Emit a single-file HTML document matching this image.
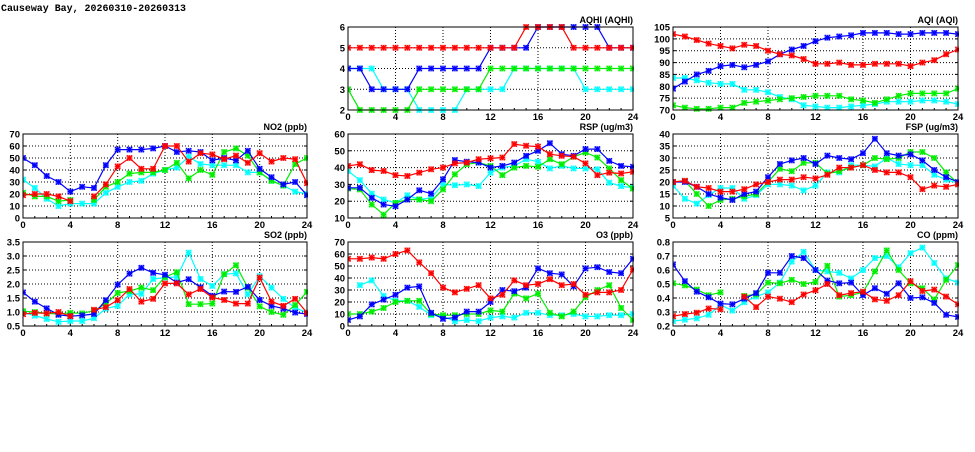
<!DOCTYPE html>
<html><head><meta charset="utf-8"><style>
html,body{margin:0;padding:0;background:#fff;}
svg text{font-family:"Liberation Sans",sans-serif;font-weight:bold;fill:#000;}
</style></head><body>
<svg id="s" width="975" height="447" xmlns="http://www.w3.org/2000/svg">
<text x="1" y="11" font-size="10" textLength="185" lengthAdjust="spacingAndGlyphs" style="font-family:'Liberation Mono',monospace">Causeway Bay, 20260310-20260313</text>
</svg>
<script>
const N=null;
const panels=[
{t:"AQHI (AQHI)",x:348,y:27,w:285,h:83,min:2,max:6,ticks:[2,3,4,5,6],fmt:v=>v,
 s:{c:[4,4,4,3,3,3,2,2,2,2,3,3,3,3,4,4,4,4,4,4,3,3,3,3,3],
 g:[3,2,2,2,2,2,3,3,3,3,3,3,4,4,4,4,4,4,4,4,4,4,4,4,4],
 b:[4,4,3,3,3,3,4,4,4,4,4,4,5,5,5,5,6,6,6,6,6,6,5,5,5],
 r:[5,5,5,5,5,5,5,5,5,5,5,5,5,5,5,6,6,6,6,5,5,5,5,5,5]}},
{t:"AQI (AQI)",x:673,y:27,w:285,h:83,min:70,max:105,ticks:[70,75,80,85,90,95,100,105],fmt:v=>v,
 s:{c:[83.5,83.5,82.5,81.5,81,81,78.5,78.5,77.5,75.5,74.5,72,71.5,71,71,71.5,72,72.5,73.5,73.5,73.5,74,74,73.5,72.5],
 g:[72,71,70.5,70.5,71,71,73,73.5,74,74.5,75,75.5,76,76,76,74.5,74,73,74.5,76,77,77,77,77,79],
 b:[79,82,85,86.5,88.5,89,88,89,90.5,93.5,95.5,97,99,100.5,101,101.5,102.5,102.5,102.5,102,102,102.5,102.5,102.5,102],
 r:[102,101,99.5,98,97,96,97.5,97,95,93.5,93,91.5,89.5,89.5,90,89,89,89.5,89.5,89.5,88.5,90,91,93.5,95.5]}},
{t:"NO2 (ppb)",x:23,y:134,w:284,h:84,min:0,max:70,ticks:[0,10,20,30,40,50,60,70],fmt:v=>v,
 s:{c:[32,25,16,10,12,12,12,21,26,30,31,37,40,42,51,45,44,44,44,38,38,31,27,22,20],
 g:[21,18,18,14,15,N,15,26,30,37,38,38,40,46,33,40,36,55,58,52,38,31,27,45,50],
 b:[50,44,35,30,22,26,25,44,57,57,57,58,60,55,56,55,48,50,48,56,41,34,28,30,19],
 r:[19,20,20,18,14,N,18,28,43,50,41,41,60,60,47,54,53,49,52,46,54,47,50,49,29]}},
{t:"RSP (ug/m3)",x:348,y:134,w:285,h:84,min:10,max:60,ticks:[10,20,30,40,50,60],fmt:v=>v,
 s:{c:[38,32.5,24.5,21,19,23.5,21,22,30,29.5,30,29,37,40,41,45,43.5,39.5,41,39.5,39.5,39,31,29,28],
 g:[27.5,27,18,12,19,21,21,20,27,36,42,43,41,35.5,40,41,40.5,45,42,46.5,49,46,39.5,32.5,27.5],
 b:[28,28,22,18,17,21,26.5,24.5,33,44.5,43.5,43,40,41,43,47,50,54.5,48,47,51,51,44,41,40.5],
 r:[41,42,38.5,38,35.5,35,37,39,40,42.5,43,45,45.5,46,54,53,52.5,48,47,46.5,42.5,35.5,37,36.5,37.5]}},
{t:"FSP (ug/m3)",x:673,y:134,w:285,h:84,min:5,max:40,ticks:[5,10,15,20,25,30,35,40],fmt:v=>v,
 s:{c:[18.5,13,11,14.5,17.5,17.5,13,14.5,19,19,18.5,16.5,18.5,24,24,27,27,26.5,30,27.5,27,27,23,21,19.5],
 g:[20,20.5,15,10,12.5,13,14,15,20,25.5,24.5,28,28,23.5,24.5,26,27,30,29.5,30,32.5,32.5,30,24,19.5],
 b:[20,20,18,15,13.5,12.5,15,16,22,27.5,29,30,27.5,31,30,29.5,32,38,32,31,31.5,29,25,22,20],
 r:[20,20.5,18,17.5,16,16,17,19,20,21,21,22,21.5,23,26,26,27,25,24,24,22,17,18.5,18,19]}},
{t:"SO2 (ppb)",x:23,y:242,w:284,h:84,min:0.5,max:3.5,ticks:[0.5,1,1.5,2,2.5,3,3.5],fmt:v=>v.toFixed(1),
 s:{c:[0.98,0.87,0.75,0.65,0.68,0.68,0.78,1.12,1.22,1.63,1.65,2.18,2.23,2.25,3.12,2.18,1.93,2.35,2.38,1.63,2.28,1.87,1.47,1.15,0.98],
 g:[1.03,1,0.95,0.93,0.97,0.95,1.05,1.3,1.68,1.75,1.87,1.78,2.25,2.42,1.28,1.28,1.3,2.35,2.67,1.87,1.2,1,0.9,1.25,1.72],
 b:[1.7,1.37,1.13,0.9,0.85,0.88,0.93,1.42,1.98,2.37,2.58,2.4,2.33,2.05,2.17,1.88,1.58,1.73,1.72,1.9,1.43,1.22,1.12,0.98,0.93],
 r:[0.92,0.97,0.95,1,0.85,N,1.08,1.17,1.42,1.82,1.37,1.47,2.02,2.02,1.63,1.82,1.52,1.43,1.3,1.3,2.23,1.37,1.22,1.47,0.97]}},
{t:"O3 (ppb)",x:348,y:242,w:285,h:84,min:0,max:70,ticks:[0,10,20,30,40,50,60,70],fmt:v=>v,
 s:{c:[N,34,38,25,21,21,16,9,8,4,5,4,7,8,7,11,11,9,9,10,8,8,9,9,10],
 g:[10,10,12,15,20,21,21,10,9,9,10,10,13,12,27,23,27,11,8,12,24,30,34,15,5],
 b:[5,8,18,22,26,32,33,11,6,7,12,12,20,30,29,32,48,44,43,33,48,49,45,44,56],
 r:[56,56,57,56,60,63,53,44,32,28,31,34,23,26,38,34,35,39,34,35,26,28,28,30,47]}},
{t:"CO (ppm)",x:673,y:242,w:285,h:84,min:0.2,max:0.8,ticks:[0.2,0.3,0.4,0.5,0.6,0.7,0.8],fmt:v=>v.toFixed(1),
 s:{c:[0.235,0.245,0.255,0.28,0.35,0.31,0.37,0.41,0.44,0.51,0.66,0.73,0.6,0.59,0.58,0.54,0.6,0.685,0.7,0.62,0.72,0.76,0.65,0.54,0.51],
 g:[0.505,0.49,0.46,0.42,0.44,N,0.415,0.425,0.51,0.505,0.53,0.5,0.515,0.63,0.41,0.42,0.44,0.59,0.74,0.6,0.505,0.47,0.39,0.53,0.635],
 b:[0.64,0.52,0.445,0.405,0.36,0.355,0.395,0.435,0.58,0.58,0.7,0.685,0.6,0.525,0.505,0.51,0.42,0.47,0.43,0.505,0.4,0.405,0.365,0.28,0.265],
 r:[0.27,0.285,0.295,0.325,0.32,N,0.41,0.335,0.41,0.395,0.37,0.425,0.455,0.5,0.42,0.435,0.445,0.39,0.38,0.42,0.52,0.45,0.46,0.41,0.355]}}
];
const col={c:"#00ffff",g:"#00ee00",b:"#0000ff",r:"#ff0000"};
let o="";
for(const p of panels){
 const X=h=>p.x+h*p.w/24, Y=v=>p.y+p.h-(v-p.min)/(p.max-p.min)*p.h;
 for(const t of p.ticks){const y=Y(t).toFixed(1);
  if(t!=p.min&&t!=p.max)o+=`<line x1="${p.x}" y1="${y}" x2="${p.x+p.w}" y2="${y}" stroke="#000" stroke-width="1" stroke-dasharray="1,2"/>`;
  o+=`<line x1="${p.x}" y1="${y}" x2="${p.x+3}" y2="${y}" stroke="#000"/><line x1="${p.x+p.w-3}" y1="${y}" x2="${p.x+p.w}" y2="${y}" stroke="#000"/>`;
  o+=`<text x="${p.x-3}" y="${(+y+3.5).toFixed(1)}" font-size="9.5" text-anchor="end">${p.fmt(t)}</text>`;}
 for(let h=0;h<=24;h+=4){const x=X(h).toFixed(1);
  if(h>0&&h<24)o+=`<line x1="${x}" y1="${p.y}" x2="${x}" y2="${p.y+p.h}" stroke="#000" stroke-dasharray="1,2"/>`;
  o+=`<text x="${x}" y="${p.y+p.h+10}" font-size="9.5" text-anchor="middle">${h}</text>`;}
 for(let h=1;h<24;h++){const x=X(h).toFixed(1);o+=`<line x1="${x}" y1="${p.y+p.h}" x2="${x}" y2="${p.y+p.h-2}" stroke="#000"/>`;}
 o+=`<text x="${p.x+p.w}" y="${p.y-4}" font-size="9" text-anchor="end">${p.t}</text>`;
 o+=`<svg x="${p.x}" y="${p.y-4}" width="${p.w+1}" height="${p.h+8}" overflow="hidden"><g transform="translate(${-p.x},${-(p.y-4)})">`;
 for(const k of ["c","g","b","r"]){const d=p.s[k];let path="",pen=false;
  d.forEach((v,i)=>{if(v==null){pen=false;return;}path+=(pen?"L":"M")+X(i).toFixed(1)+","+Y(v).toFixed(1);pen=true;});
  o+=`<path d="${path}" fill="none" stroke="${col[k]}" stroke-width="1.2"/>`;
  d.forEach((v,i)=>{if(v==null)return;const x=X(i),y=Y(v),r=2.6;
   o+=`<path d="M${x-r},${y-r}L${x+r},${y+r}M${x-r},${y+r}L${x+r},${y-r}M${x-r},${y}L${x+r},${y}M${x},${y-r}L${x},${y+r}" stroke="${col[k]}" stroke-width="1.3"/><rect x="${x-r}" y="${y-r}" width="${2*r}" height="${2*r}" fill="none" stroke="${col[k]}" stroke-width="0.6" opacity="0.6"/>`;});}
 o+=`</g></svg>`;
 o+=`<rect x="${p.x}" y="${p.y}" width="${p.w}" height="${p.h}" fill="none" stroke="#000" stroke-width="1"/>`;
}
document.getElementById("s").insertAdjacentHTML("beforeend",o);
</script>
</body></html>
